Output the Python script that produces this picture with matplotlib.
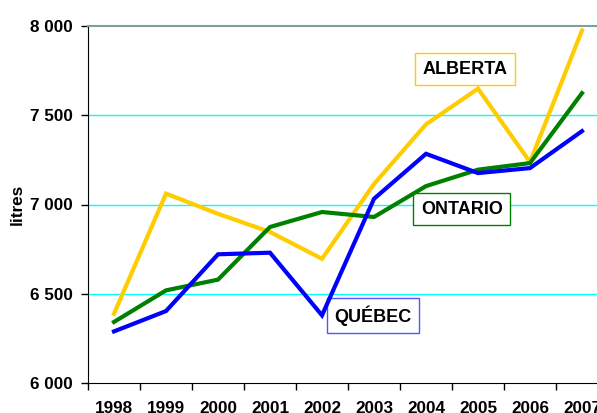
import numpy as np
import matplotlib
matplotlib.use("Agg")
from matplotlib import pyplot as plt

plt.rcParams["font.family"] = ["Liberation Sans", "DejaVu Sans"]
plt.rcParams["font.weight"] = "bold"

years = ["1998", "1999", "2000", "2001", "2002", "2003", "2004", "2005", "2006", "2007"]
alberta = [6388, 7061, 6948, 6846, 6696, 7115, 7449, 7649, 7238, 7975]
ontario = [6342, 6519, 6579, 6874, 6958, 6930, 7103, 7195, 7232, 7624]
quebec = [6289, 6403, 6721, 6730, 6379, 7032, 7284, 7176, 7204, 7411]

fig = plt.figure(figsize=(5.97, 4.13), dpi=100)
ax = fig.add_axes([88 / 597, 1 - 383 / 413, 520 / 597, 357 / 413])

x = np.arange(len(years))
ax.plot(x, alberta, color="#FFCC00", lw=3, solid_joinstyle="miter", zorder=3)
ax.plot(x, ontario, color="#008000", lw=3, solid_joinstyle="miter", zorder=4)
ax.plot(x, quebec, color="#0000FF", lw=3, solid_joinstyle="miter", zorder=5)

ax.set_xlim(-0.5, len(years) - 0.5)
ax.set_ylim(6000, 8000)
ax.set_yticks([6000, 6500, 7000, 7500, 8000])
ax.set_yticklabels(["6 000", "6 500", "7 000", "7 500", "8 000"])
for v in [6500, 7000, 7500]:
    ax.axhline(v, color="#00FFFF", lw=1, zorder=1)

ax.set_xticks(x)
ax.set_xticklabels(years)
ax.set_xticks(np.arange(-0.5, len(years)), minor=True)
ax.tick_params(axis="x", which="major", length=0, pad=13, labelsize=12.3)
ax.tick_params(axis="x", which="minor", length=5, direction="out", width=1)
ax.tick_params(axis="y", length=5, width=1, pad=6, labelsize=12.3)

ax.spines["right"].set_visible(False)
ax.spines["top"].set_color("#7F9F9F")
ax.spines["top"].set_linewidth(1.5)

ax.set_ylabel("litres", fontsize=12.3, fontweight="bold", labelpad=4)

ax.text(6.75, 7757, "ALBERTA", ha="center", va="center", fontsize=13, fontweight="bold",
        bbox=dict(boxstyle="square,pad=0.42", fc="white", ec="#FFCC00", lw=1))
ax.text(6.69, 6973, "ONTARIO", ha="center", va="center", fontsize=13, fontweight="bold",
        bbox=dict(boxstyle="square,pad=0.42", fc="white", ec="#008000", lw=1))
ax.text(4.98, 6379, "QUÉBEC", ha="center", va="center", fontsize=13, fontweight="bold",
        bbox=dict(boxstyle="square,pad=0.42", fc="white", ec="#5555FF", lw=1))

fig.savefig("out.png", dpi=100)
